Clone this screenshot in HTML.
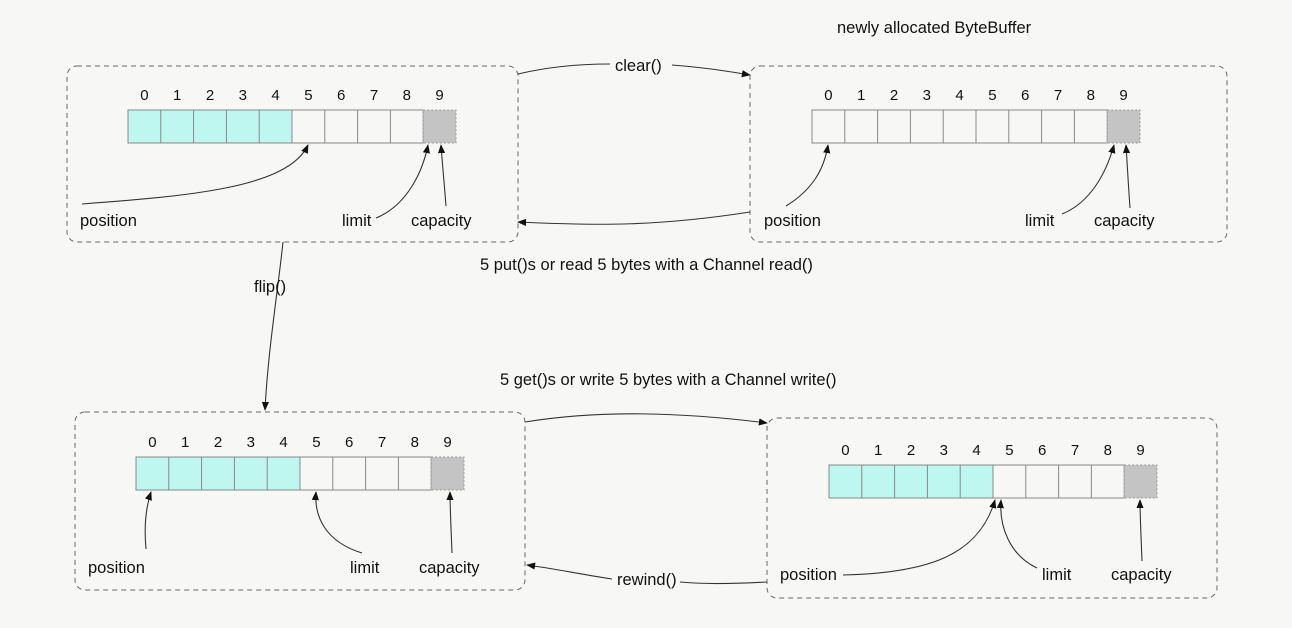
<!DOCTYPE html>
<html><head><meta charset="utf-8"><style>
html,body{margin:0;padding:0;background:#f7f8f6;}
svg{display:block;font-family:"Liberation Sans",sans-serif;}
text{font-size:16.5px;fill:#111;}
.d{font-size:15px;text-anchor:middle;}
</style></head><body>
<svg width="1292" height="628" viewBox="0 0 1292 628">
<defs>
<marker id="ah" viewBox="0 0 10 10" refX="9" refY="5" markerWidth="9" markerHeight="9" orient="auto-start-reverse" markerUnits="userSpaceOnUse"><path d="M0,1 L10,5 L0,9 z" fill="#111"/></marker>
<g id="cyan">
<rect x="0" y="0" width="164" height="33" fill="#bdf7ef"/>
</g>
<g id="grid" fill="none" stroke="#888" stroke-width="1">
<rect x="0" y="0" width="295.2" height="33"/>
<path d="M32.8,0V33M65.6,0V33M98.4,0V33M131.2,0V33M164,0V33M196.8,0V33M229.6,0V33M262.4,0V33"/>
<rect x="295.2" y="0" width="32.8" height="33" fill="#c4c4c4" stroke="#999" stroke-dasharray="2,2"/>
</g>
</defs>
<g fill="none" stroke="#666" stroke-width="1" stroke-dasharray="5,4">
<rect x="67" y="66" width="451" height="176" rx="10"/>
<rect x="750" y="66" width="477" height="176" rx="10"/>
<rect x="75" y="412" width="450" height="178" rx="10"/>
<rect x="767" y="418" width="450" height="180" rx="10"/>
</g>
<g fill="none" stroke="#333" stroke-width="1.1">
<path d="M518,74 C560,64 600,64 610,64 M672,65 C700,67 720,70 750,75" marker-end="url(#ah)"/>
<path d="M750,212 C660,226 600,226 518,222" marker-end="url(#ah)"/>
<path d="M283,242 C278,290 268,350 265,410" marker-end="url(#ah)"/>
<path d="M525,422 C600,410 680,412 767,423" marker-end="url(#ah)"/>
<path d="M767,582 C730,584 700,584 680,582 M612,579 C580,574 550,568 527,565" marker-end="url(#ah)"/>
</g>
<text x="837" y="33">newly allocated ByteBuffer</text>
<text x="615" y="71">clear()</text>
<text x="480" y="270">5 put()s or read 5 bytes with a Channel read()</text>
<text x="254" y="292">flip()</text>
<text x="500" y="385">5 get()s or write 5 bytes with a Channel write()</text>
<text x="617" y="585">rewind()</text>

<!-- Panel 1 -->
<g transform="translate(128,110)">
<use href="#cyan"/><use href="#grid"/>
<text class="d" y="-10"><tspan x="16.4">0</tspan><tspan x="49.2">1</tspan><tspan x="82">2</tspan><tspan x="114.8">3</tspan><tspan x="147.6">4</tspan><tspan x="180.4">5</tspan><tspan x="213.2">6</tspan><tspan x="246">7</tspan><tspan x="278.8">8</tspan><tspan x="311.6">9</tspan></text>
<g fill="none" stroke="#333" stroke-width="1.1">
<path d="M-46,94 C60,86 160,78 180,35" marker-end="url(#ah)"/>
<path d="M248,108 C280,95 295,60 300,35" marker-end="url(#ah)"/>
<path d="M318,96 C316,70 314,50 313,35" marker-end="url(#ah)"/>
</g>
<text x="-48" y="116">position</text><text x="214" y="116">limit</text><text x="283" y="116">capacity</text>
</g>
<!-- Panel 2 -->
<g transform="translate(812,110)">
<use href="#grid"/>
<text class="d" y="-10"><tspan x="16.4">0</tspan><tspan x="49.2">1</tspan><tspan x="82">2</tspan><tspan x="114.8">3</tspan><tspan x="147.6">4</tspan><tspan x="180.4">5</tspan><tspan x="213.2">6</tspan><tspan x="246">7</tspan><tspan x="278.8">8</tspan><tspan x="311.6">9</tspan></text>
<g fill="none" stroke="#333" stroke-width="1.1">
<path d="M-26,96 C0,80 12,60 16,35" marker-end="url(#ah)"/>
<path d="M250,104 C280,92 295,60 302,35" marker-end="url(#ah)"/>
<path d="M318,98 C316,70 315,50 314,35" marker-end="url(#ah)"/>
</g>
<text x="-48" y="116">position</text><text x="213" y="116">limit</text><text x="282" y="116">capacity</text>
</g>
<!-- Panel 3 -->
<g transform="translate(136,457)">
<use href="#cyan"/><use href="#grid"/>
<text class="d" y="-10"><tspan x="16.4">0</tspan><tspan x="49.2">1</tspan><tspan x="82">2</tspan><tspan x="114.8">3</tspan><tspan x="147.6">4</tspan><tspan x="180.4">5</tspan><tspan x="213.2">6</tspan><tspan x="246">7</tspan><tspan x="278.8">8</tspan><tspan x="311.6">9</tspan></text>
<g fill="none" stroke="#333" stroke-width="1.1">
<path d="M10,92 C8,70 10,50 15,35" marker-end="url(#ah)"/>
<path d="M226,96 C190,85 178,60 180,35" marker-end="url(#ah)"/>
<path d="M316,96 C315,70 314,50 314,35" marker-end="url(#ah)"/>
</g>
<text x="-48" y="116">position</text><text x="214" y="116">limit</text><text x="283" y="116">capacity</text>
</g>
<!-- Panel 4 -->
<g transform="translate(829,465)">
<use href="#cyan"/><use href="#grid"/>
<text class="d" y="-10"><tspan x="16.4">0</tspan><tspan x="49.2">1</tspan><tspan x="82">2</tspan><tspan x="114.8">3</tspan><tspan x="147.6">4</tspan><tspan x="180.4">5</tspan><tspan x="213.2">6</tspan><tspan x="246">7</tspan><tspan x="278.8">8</tspan><tspan x="311.6">9</tspan></text>
<g fill="none" stroke="#333" stroke-width="1.1">
<path d="M14,110 C100,108 150,90 166,35" marker-end="url(#ah)"/>
<path d="M208,103 C180,90 170,60 172,35" marker-end="url(#ah)"/>
<path d="M313,96 C312,70 311,50 311,35" marker-end="url(#ah)"/>
</g>
<text x="-49" y="115">position</text><text x="213" y="115">limit</text><text x="282" y="115">capacity</text>
</g>
</svg>
</body></html>
